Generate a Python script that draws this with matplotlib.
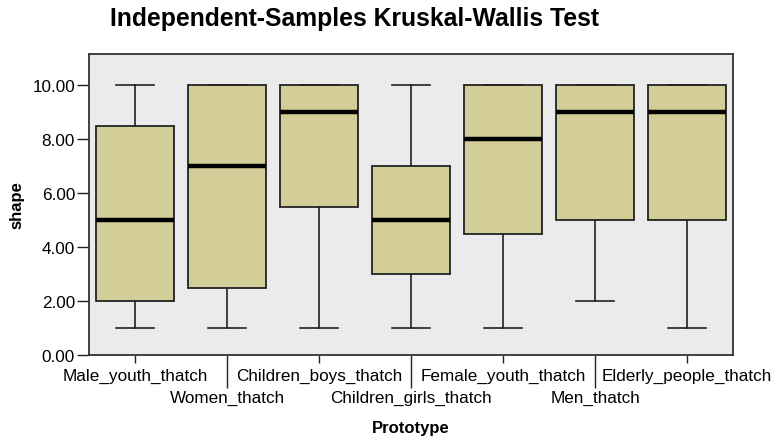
import matplotlib
matplotlib.use("Agg")
import matplotlib.pyplot as plt

plt.rcParams['font.family'] = ['Liberation Sans', 'DejaVu Sans']

categories = ["Male_youth_thatch", "Women_thatch", "Children_boys_thatch",
              "Children_girls_thatch", "Female_youth_thatch", "Men_thatch",
              "Elderly_people_thatch"]
whisker_low = [1, 1, 1, 1, 1, 2, 1]
q1 = [2, 2.5, 5.5, 3, 4.5, 5, 5]
median = [5, 7, 9, 5, 8, 9, 9]
q3 = [8.5, 10, 10, 7, 10, 10, 10]
whisker_high = [10, 10, 10, 10, 10, 10, 10]
y_ticks = [0, 2, 4, 6, 8, 10]

stats = [dict(label=c, whislo=lo, q1=a, med=m, q3=b, whishi=hi)
         for c, lo, a, m, b, hi in zip(categories, whisker_low, q1, median, q3, whisker_high)]

fig = plt.figure(figsize=(7.75, 4.39), dpi=100)
ax = fig.add_axes([89/775, 1 - 356/439, (733-89)/775, (356-55)/439])
ax.set_facecolor('#EBEBEB')

edge = '#222222'
positions = list(range(len(categories)))
ax.bxp(stats, positions=positions, widths=0.84, patch_artist=True, showfliers=False,
       boxprops=dict(facecolor='#D3CE97', edgecolor=edge, linewidth=1.3),
       medianprops=dict(color='black', linewidth=3.2, solid_capstyle='butt'),
       whiskerprops=dict(color=edge, linewidth=1.2),
       capprops=dict(color=edge, linewidth=1.2),
       capwidths=0.42)

ax.set_xlim(-0.5, len(categories) - 0.5)
ax.set_ylim(0, 11.15)
ax.set_yticks(y_ticks)
ax.set_yticklabels([f"{v:.2f}" for v in y_ticks], fontsize=12.3)
ax.tick_params(axis='y', length=9, width=1, color=edge, pad=1)

even = positions[0::2]
odd = positions[1::2]
ax.set_xticks(even)
ax.set_xticklabels(categories[0::2], fontsize=12.3)
ax.set_xticks(odd, minor=True)
ax.set_xticklabels(categories[1::2], minor=True, fontsize=12.3)
ax.tick_params(axis='x', which='major', length=6, width=1, color=edge, pad=3)
ax.tick_params(axis='x', which='minor', length=24, width=1, color=edge, pad=1)

for s in ax.spines.values():
    s.set_color('#333333')
    s.set_linewidth(1.3)

ax.set_ylabel('shape', fontsize=12, fontweight='bold', labelpad=6)
ax.set_xlabel('Prototype', fontsize=12, fontweight='bold', labelpad=11)
fig.text(355/775, 1 - 19/439, 'Independent-Samples Kruskal-Wallis Test',
         fontsize=17.8, fontweight='bold', ha='center', va='center')

fig.savefig('out.png', dpi=100)
